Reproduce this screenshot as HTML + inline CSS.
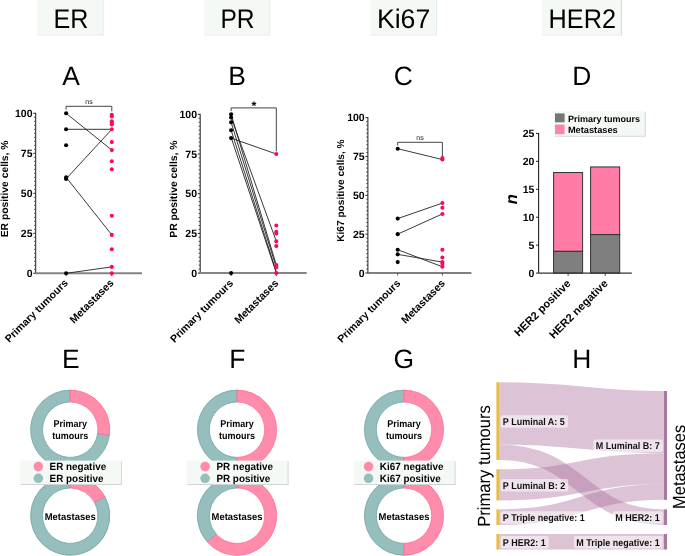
<!DOCTYPE html>
<html><head><meta charset="utf-8"><style>
html,body{margin:0;padding:0;background:#fff;}
svg{display:block;will-change:transform;text-rendering:geometricPrecision;font-family:"Liberation Sans", sans-serif;}
</style></head><body>
<svg width="685" height="556" viewBox="0 0 685 556">
<rect x="37.2" y="0" width="66.4" height="35.4" fill="#f5f9f6"/>
<line x1="103.1" y1="0" x2="103.1" y2="35.4" stroke="#e9edea" stroke-width="1"/>
<line x1="37.2" y1="34.9" x2="103.6" y2="34.9" stroke="#e9edea" stroke-width="1"/>
<text x="53.5" y="28" font-size="27" textLength="34.9" lengthAdjust="spacingAndGlyphs">ER</text>
<rect x="204.2" y="0" width="66.1" height="35.4" fill="#f5f9f6"/>
<line x1="269.8" y1="0" x2="269.8" y2="35.4" stroke="#e9edea" stroke-width="1"/>
<line x1="204.2" y1="34.9" x2="270.3" y2="34.9" stroke="#e9edea" stroke-width="1"/>
<text x="220.4" y="28" font-size="27" textLength="34.2" lengthAdjust="spacingAndGlyphs">PR</text>
<rect x="370.4" y="0" width="66.6" height="35.4" fill="#f5f9f6"/>
<line x1="436.5" y1="0" x2="436.5" y2="35.4" stroke="#e9edea" stroke-width="1"/>
<line x1="370.4" y1="34.9" x2="437" y2="34.9" stroke="#e9edea" stroke-width="1"/>
<text x="376.9" y="28" font-size="27" textLength="53.4" lengthAdjust="spacingAndGlyphs">Ki67</text>
<rect x="542.2" y="0" width="79.7" height="35.4" fill="#f5f9f6"/>
<line x1="621.4" y1="0" x2="621.4" y2="35.4" stroke="#d3d7d5" stroke-width="1"/>
<line x1="542.2" y1="34.9" x2="621.9" y2="34.9" stroke="#e9edea" stroke-width="1"/>
<text x="548.6" y="28" font-size="27" textLength="67.4" lengthAdjust="spacingAndGlyphs">HER2</text>
<text x="62.2" y="85.4" font-size="26.4">A</text>
<text x="228.2" y="85.4" font-size="26.4">B</text>
<text x="393.8" y="85.3" font-size="26.4">C</text>
<text x="572.3" y="85.2" font-size="26.4">D</text>
<text x="62.1" y="368" font-size="26.4">E</text>
<text x="229.3" y="368" font-size="26.4">F</text>
<text x="393.6" y="368.4" font-size="26.4">G</text>
<text x="572.3" y="368" font-size="26.4">H</text>
<line x1="35.7" y1="112.8" x2="35.7" y2="273.3" stroke="#222" stroke-width="1"/>
<line x1="33.3" y1="273.3" x2="35.7" y2="273.3" stroke="#222" stroke-width="1"/>
<text x="32.5" y="277" font-size="10.5" font-weight="bold" text-anchor="end">0</text>
<line x1="34.1" y1="269.3" x2="35.7" y2="269.3" stroke="#333" stroke-width="0.9"/>
<line x1="34.1" y1="265.3" x2="35.7" y2="265.3" stroke="#333" stroke-width="0.9"/>
<line x1="34.1" y1="261.3" x2="35.7" y2="261.3" stroke="#333" stroke-width="0.9"/>
<line x1="34.1" y1="257.3" x2="35.7" y2="257.3" stroke="#333" stroke-width="0.9"/>
<line x1="34.1" y1="253.3" x2="35.7" y2="253.3" stroke="#333" stroke-width="0.9"/>
<line x1="34.1" y1="249.3" x2="35.7" y2="249.3" stroke="#333" stroke-width="0.9"/>
<line x1="34.1" y1="245.3" x2="35.7" y2="245.3" stroke="#333" stroke-width="0.9"/>
<line x1="34.1" y1="241.3" x2="35.7" y2="241.3" stroke="#333" stroke-width="0.9"/>
<line x1="34.1" y1="237.3" x2="35.7" y2="237.3" stroke="#333" stroke-width="0.9"/>
<line x1="33.3" y1="233.3" x2="35.7" y2="233.3" stroke="#222" stroke-width="1"/>
<text x="32.5" y="237" font-size="10.5" font-weight="bold" text-anchor="end">25</text>
<line x1="34.1" y1="229.3" x2="35.7" y2="229.3" stroke="#333" stroke-width="0.9"/>
<line x1="34.1" y1="225.3" x2="35.7" y2="225.3" stroke="#333" stroke-width="0.9"/>
<line x1="34.1" y1="221.3" x2="35.7" y2="221.3" stroke="#333" stroke-width="0.9"/>
<line x1="34.1" y1="217.3" x2="35.7" y2="217.3" stroke="#333" stroke-width="0.9"/>
<line x1="34.1" y1="213.3" x2="35.7" y2="213.3" stroke="#333" stroke-width="0.9"/>
<line x1="34.1" y1="209.3" x2="35.7" y2="209.3" stroke="#333" stroke-width="0.9"/>
<line x1="34.1" y1="205.3" x2="35.7" y2="205.3" stroke="#333" stroke-width="0.9"/>
<line x1="34.1" y1="201.3" x2="35.7" y2="201.3" stroke="#333" stroke-width="0.9"/>
<line x1="34.1" y1="197.3" x2="35.7" y2="197.3" stroke="#333" stroke-width="0.9"/>
<line x1="33.3" y1="193.3" x2="35.7" y2="193.3" stroke="#222" stroke-width="1"/>
<text x="32.5" y="197" font-size="10.5" font-weight="bold" text-anchor="end">50</text>
<line x1="34.1" y1="189.3" x2="35.7" y2="189.3" stroke="#333" stroke-width="0.9"/>
<line x1="34.1" y1="185.3" x2="35.7" y2="185.3" stroke="#333" stroke-width="0.9"/>
<line x1="34.1" y1="181.3" x2="35.7" y2="181.3" stroke="#333" stroke-width="0.9"/>
<line x1="34.1" y1="177.3" x2="35.7" y2="177.3" stroke="#333" stroke-width="0.9"/>
<line x1="34.1" y1="173.3" x2="35.7" y2="173.3" stroke="#333" stroke-width="0.9"/>
<line x1="34.1" y1="169.3" x2="35.7" y2="169.3" stroke="#333" stroke-width="0.9"/>
<line x1="34.1" y1="165.3" x2="35.7" y2="165.3" stroke="#333" stroke-width="0.9"/>
<line x1="34.1" y1="161.3" x2="35.7" y2="161.3" stroke="#333" stroke-width="0.9"/>
<line x1="34.1" y1="157.3" x2="35.7" y2="157.3" stroke="#333" stroke-width="0.9"/>
<line x1="33.3" y1="153.3" x2="35.7" y2="153.3" stroke="#222" stroke-width="1"/>
<text x="32.5" y="157" font-size="10.5" font-weight="bold" text-anchor="end">75</text>
<line x1="34.1" y1="149.3" x2="35.7" y2="149.3" stroke="#333" stroke-width="0.9"/>
<line x1="34.1" y1="145.3" x2="35.7" y2="145.3" stroke="#333" stroke-width="0.9"/>
<line x1="34.1" y1="141.3" x2="35.7" y2="141.3" stroke="#333" stroke-width="0.9"/>
<line x1="34.1" y1="137.3" x2="35.7" y2="137.3" stroke="#333" stroke-width="0.9"/>
<line x1="34.1" y1="133.3" x2="35.7" y2="133.3" stroke="#333" stroke-width="0.9"/>
<line x1="34.1" y1="129.3" x2="35.7" y2="129.3" stroke="#333" stroke-width="0.9"/>
<line x1="34.1" y1="125.3" x2="35.7" y2="125.3" stroke="#333" stroke-width="0.9"/>
<line x1="34.1" y1="121.3" x2="35.7" y2="121.3" stroke="#333" stroke-width="0.9"/>
<line x1="34.1" y1="117.3" x2="35.7" y2="117.3" stroke="#333" stroke-width="0.9"/>
<line x1="33.3" y1="113.3" x2="35.7" y2="113.3" stroke="#222" stroke-width="1"/>
<text x="32.5" y="117" font-size="10.5" font-weight="bold" text-anchor="end">100</text>
<line x1="35.7" y1="273.3" x2="142" y2="273.3" stroke="#858585" stroke-width="2"/>
<line x1="66.1" y1="273.3" x2="66.1" y2="276.1" stroke="#444" stroke-width="1"/>
<line x1="111.8" y1="273.3" x2="111.8" y2="276.1" stroke="#444" stroke-width="1"/>
<text x="8.05" y="188.9" font-size="10.3" font-weight="bold" text-anchor="middle" transform="rotate(-90 8.05 188.9)">ER positive cells, %</text>
<text x="68.6" y="283.6" font-size="10.5" font-weight="bold" text-anchor="end" transform="rotate(-45 68.6 283.6)">Primary tumours</text>
<text x="114.3" y="283.6" font-size="10.6" font-weight="bold" text-anchor="end" transform="rotate(-45 114.3 283.6)">Metastases</text>
<line x1="66.1" y1="113.3" x2="111.8" y2="150.1" stroke="#222" stroke-width="0.9"/>
<line x1="66.1" y1="129.3" x2="111.8" y2="129.3" stroke="#222" stroke-width="0.9"/>
<line x1="66.1" y1="178.9" x2="111.8" y2="129.3" stroke="#222" stroke-width="0.9"/>
<line x1="66.1" y1="177.3" x2="111.8" y2="234.9" stroke="#222" stroke-width="0.9"/>
<line x1="66.1" y1="273.3" x2="111.8" y2="266.9" stroke="#222" stroke-width="0.9"/>
<polyline points="66.1,109.5 66.1,106.3 111.8,106.3 111.8,111.3" fill="none" stroke="#444" stroke-width="1"/>
<text x="88.95" y="104.1" font-size="7" text-anchor="middle" fill="#222">ns</text>
<circle cx="66.1" cy="113.3" r="2.05" fill="#000"/>
<circle cx="66.1" cy="129.3" r="2.05" fill="#000"/>
<circle cx="66.1" cy="145.3" r="2.05" fill="#000"/>
<circle cx="66.1" cy="177.3" r="2.05" fill="#000"/>
<circle cx="66.1" cy="178.9" r="2.05" fill="#000"/>
<circle cx="66.1" cy="273.3" r="2.05" fill="#000"/>
<circle cx="111.8" cy="114.9" r="2.05" fill="#ff0660"/>
<circle cx="111.8" cy="116.5" r="2.05" fill="#ff0660"/>
<circle cx="111.8" cy="121.3" r="2.05" fill="#ff0660"/>
<circle cx="111.8" cy="122.9" r="2.05" fill="#ff0660"/>
<circle cx="111.8" cy="124.5" r="2.05" fill="#ff0660"/>
<circle cx="111.8" cy="129.3" r="2.05" fill="#ff0660"/>
<circle cx="111.8" cy="142.1" r="2.05" fill="#ff0660"/>
<circle cx="111.8" cy="150.1" r="2.05" fill="#ff0660"/>
<circle cx="111.8" cy="161.3" r="2.05" fill="#ff0660"/>
<circle cx="111.8" cy="169.3" r="2.05" fill="#ff0660"/>
<circle cx="111.8" cy="215.7" r="2.05" fill="#ff0660"/>
<circle cx="111.8" cy="234.9" r="2.05" fill="#ff0660"/>
<circle cx="111.8" cy="249.3" r="2.05" fill="#ff0660"/>
<circle cx="111.8" cy="266.9" r="2.05" fill="#ff0660"/>
<circle cx="111.8" cy="273.3" r="2.05" fill="#ff0660"/>
<line x1="200.2" y1="113.8" x2="200.2" y2="273.1" stroke="#222" stroke-width="1"/>
<line x1="197.8" y1="273.1" x2="200.2" y2="273.1" stroke="#222" stroke-width="1"/>
<text x="197" y="276.8" font-size="10.5" font-weight="bold" text-anchor="end">0</text>
<line x1="198.6" y1="269.13" x2="200.2" y2="269.13" stroke="#333" stroke-width="0.9"/>
<line x1="198.6" y1="265.16" x2="200.2" y2="265.16" stroke="#333" stroke-width="0.9"/>
<line x1="198.6" y1="261.19" x2="200.2" y2="261.19" stroke="#333" stroke-width="0.9"/>
<line x1="198.6" y1="257.22" x2="200.2" y2="257.22" stroke="#333" stroke-width="0.9"/>
<line x1="198.6" y1="253.25" x2="200.2" y2="253.25" stroke="#333" stroke-width="0.9"/>
<line x1="198.6" y1="249.28" x2="200.2" y2="249.28" stroke="#333" stroke-width="0.9"/>
<line x1="198.6" y1="245.31" x2="200.2" y2="245.31" stroke="#333" stroke-width="0.9"/>
<line x1="198.6" y1="241.34" x2="200.2" y2="241.34" stroke="#333" stroke-width="0.9"/>
<line x1="198.6" y1="237.37" x2="200.2" y2="237.37" stroke="#333" stroke-width="0.9"/>
<line x1="197.8" y1="233.4" x2="200.2" y2="233.4" stroke="#222" stroke-width="1"/>
<text x="197" y="237.1" font-size="10.5" font-weight="bold" text-anchor="end">25</text>
<line x1="198.6" y1="229.43" x2="200.2" y2="229.43" stroke="#333" stroke-width="0.9"/>
<line x1="198.6" y1="225.46" x2="200.2" y2="225.46" stroke="#333" stroke-width="0.9"/>
<line x1="198.6" y1="221.49" x2="200.2" y2="221.49" stroke="#333" stroke-width="0.9"/>
<line x1="198.6" y1="217.52" x2="200.2" y2="217.52" stroke="#333" stroke-width="0.9"/>
<line x1="198.6" y1="213.55" x2="200.2" y2="213.55" stroke="#333" stroke-width="0.9"/>
<line x1="198.6" y1="209.58" x2="200.2" y2="209.58" stroke="#333" stroke-width="0.9"/>
<line x1="198.6" y1="205.61" x2="200.2" y2="205.61" stroke="#333" stroke-width="0.9"/>
<line x1="198.6" y1="201.64" x2="200.2" y2="201.64" stroke="#333" stroke-width="0.9"/>
<line x1="198.6" y1="197.67" x2="200.2" y2="197.67" stroke="#333" stroke-width="0.9"/>
<line x1="197.8" y1="193.7" x2="200.2" y2="193.7" stroke="#222" stroke-width="1"/>
<text x="197" y="197.4" font-size="10.5" font-weight="bold" text-anchor="end">50</text>
<line x1="198.6" y1="189.73" x2="200.2" y2="189.73" stroke="#333" stroke-width="0.9"/>
<line x1="198.6" y1="185.76" x2="200.2" y2="185.76" stroke="#333" stroke-width="0.9"/>
<line x1="198.6" y1="181.79" x2="200.2" y2="181.79" stroke="#333" stroke-width="0.9"/>
<line x1="198.6" y1="177.82" x2="200.2" y2="177.82" stroke="#333" stroke-width="0.9"/>
<line x1="198.6" y1="173.85" x2="200.2" y2="173.85" stroke="#333" stroke-width="0.9"/>
<line x1="198.6" y1="169.88" x2="200.2" y2="169.88" stroke="#333" stroke-width="0.9"/>
<line x1="198.6" y1="165.91" x2="200.2" y2="165.91" stroke="#333" stroke-width="0.9"/>
<line x1="198.6" y1="161.94" x2="200.2" y2="161.94" stroke="#333" stroke-width="0.9"/>
<line x1="198.6" y1="157.97" x2="200.2" y2="157.97" stroke="#333" stroke-width="0.9"/>
<line x1="197.8" y1="154" x2="200.2" y2="154" stroke="#222" stroke-width="1"/>
<text x="197" y="157.7" font-size="10.5" font-weight="bold" text-anchor="end">75</text>
<line x1="198.6" y1="150.03" x2="200.2" y2="150.03" stroke="#333" stroke-width="0.9"/>
<line x1="198.6" y1="146.06" x2="200.2" y2="146.06" stroke="#333" stroke-width="0.9"/>
<line x1="198.6" y1="142.09" x2="200.2" y2="142.09" stroke="#333" stroke-width="0.9"/>
<line x1="198.6" y1="138.12" x2="200.2" y2="138.12" stroke="#333" stroke-width="0.9"/>
<line x1="198.6" y1="134.15" x2="200.2" y2="134.15" stroke="#333" stroke-width="0.9"/>
<line x1="198.6" y1="130.18" x2="200.2" y2="130.18" stroke="#333" stroke-width="0.9"/>
<line x1="198.6" y1="126.21" x2="200.2" y2="126.21" stroke="#333" stroke-width="0.9"/>
<line x1="198.6" y1="122.24" x2="200.2" y2="122.24" stroke="#333" stroke-width="0.9"/>
<line x1="198.6" y1="118.27" x2="200.2" y2="118.27" stroke="#333" stroke-width="0.9"/>
<line x1="197.8" y1="114.3" x2="200.2" y2="114.3" stroke="#222" stroke-width="1"/>
<text x="197" y="118" font-size="10.5" font-weight="bold" text-anchor="end">100</text>
<line x1="200.2" y1="273.1" x2="306.7" y2="273.1" stroke="#858585" stroke-width="2"/>
<line x1="231.1" y1="273.1" x2="231.1" y2="275.9" stroke="#444" stroke-width="1"/>
<line x1="276.3" y1="273.1" x2="276.3" y2="275.9" stroke="#444" stroke-width="1"/>
<text x="176.9" y="189.1" font-size="10.35" font-weight="bold" text-anchor="middle" transform="rotate(-90 176.9 189.1)">PR positive cells, %</text>
<text x="233.9" y="283.9" font-size="10.5" font-weight="bold" text-anchor="end" transform="rotate(-45 233.9 283.9)">Primary tumours</text>
<text x="279.1" y="283.9" font-size="10.6" font-weight="bold" text-anchor="end" transform="rotate(-45 279.1 283.9)">Metastases</text>
<line x1="231.1" y1="138.12" x2="276.3" y2="154" stroke="#222" stroke-width="0.9"/>
<line x1="231.1" y1="117.48" x2="276.3" y2="241.34" stroke="#222" stroke-width="0.9"/>
<line x1="231.1" y1="114.3" x2="276.3" y2="265.16" stroke="#222" stroke-width="0.9"/>
<line x1="231.1" y1="122.24" x2="276.3" y2="267.54" stroke="#222" stroke-width="0.9"/>
<line x1="231.1" y1="130.18" x2="276.3" y2="271.83" stroke="#222" stroke-width="0.9"/>
<line x1="231.1" y1="137.33" x2="276.3" y2="273.1" stroke="#222" stroke-width="0.9"/>
<polyline points="231.1,111.1 231.1,107.9 276.3,107.9 276.3,151.3" fill="none" stroke="#444" stroke-width="1"/>
<text x="254" y="109.5" font-size="12.5" font-weight="bold" text-anchor="middle">*</text>
<circle cx="231.1" cy="114.3" r="2.05" fill="#000"/>
<circle cx="231.1" cy="117.48" r="2.05" fill="#000"/>
<circle cx="231.1" cy="122.24" r="2.05" fill="#000"/>
<circle cx="231.1" cy="130.18" r="2.05" fill="#000"/>
<circle cx="231.1" cy="138.12" r="2.05" fill="#000"/>
<circle cx="231.1" cy="273.1" r="2.05" fill="#000"/>
<circle cx="276.3" cy="154" r="2.05" fill="#ff0660"/>
<circle cx="276.3" cy="225.46" r="2.05" fill="#ff0660"/>
<circle cx="276.3" cy="231.81" r="2.05" fill="#ff0660"/>
<circle cx="276.3" cy="233.4" r="2.05" fill="#ff0660"/>
<circle cx="276.3" cy="241.34" r="2.05" fill="#ff0660"/>
<circle cx="276.3" cy="246.1" r="2.05" fill="#ff0660"/>
<circle cx="276.3" cy="265.16" r="2.05" fill="#ff0660"/>
<circle cx="276.3" cy="267.54" r="2.05" fill="#ff0660"/>
<circle cx="276.3" cy="273.1" r="2.05" fill="#ff0660"/>
<line x1="367.9" y1="117.1" x2="367.9" y2="273" stroke="#222" stroke-width="1"/>
<line x1="365.5" y1="273" x2="367.9" y2="273" stroke="#222" stroke-width="1"/>
<text x="364.7" y="276.7" font-size="10.5" font-weight="bold" text-anchor="end">0</text>
<line x1="366.3" y1="269.12" x2="367.9" y2="269.12" stroke="#333" stroke-width="0.9"/>
<line x1="366.3" y1="265.23" x2="367.9" y2="265.23" stroke="#333" stroke-width="0.9"/>
<line x1="366.3" y1="261.35" x2="367.9" y2="261.35" stroke="#333" stroke-width="0.9"/>
<line x1="366.3" y1="257.46" x2="367.9" y2="257.46" stroke="#333" stroke-width="0.9"/>
<line x1="366.3" y1="253.57" x2="367.9" y2="253.57" stroke="#333" stroke-width="0.9"/>
<line x1="366.3" y1="249.69" x2="367.9" y2="249.69" stroke="#333" stroke-width="0.9"/>
<line x1="366.3" y1="245.81" x2="367.9" y2="245.81" stroke="#333" stroke-width="0.9"/>
<line x1="366.3" y1="241.92" x2="367.9" y2="241.92" stroke="#333" stroke-width="0.9"/>
<line x1="366.3" y1="238.03" x2="367.9" y2="238.03" stroke="#333" stroke-width="0.9"/>
<line x1="365.5" y1="234.15" x2="367.9" y2="234.15" stroke="#222" stroke-width="1"/>
<text x="364.7" y="237.85" font-size="10.5" font-weight="bold" text-anchor="end">25</text>
<line x1="366.3" y1="230.26" x2="367.9" y2="230.26" stroke="#333" stroke-width="0.9"/>
<line x1="366.3" y1="226.38" x2="367.9" y2="226.38" stroke="#333" stroke-width="0.9"/>
<line x1="366.3" y1="222.5" x2="367.9" y2="222.5" stroke="#333" stroke-width="0.9"/>
<line x1="366.3" y1="218.61" x2="367.9" y2="218.61" stroke="#333" stroke-width="0.9"/>
<line x1="366.3" y1="214.72" x2="367.9" y2="214.72" stroke="#333" stroke-width="0.9"/>
<line x1="366.3" y1="210.84" x2="367.9" y2="210.84" stroke="#333" stroke-width="0.9"/>
<line x1="366.3" y1="206.95" x2="367.9" y2="206.95" stroke="#333" stroke-width="0.9"/>
<line x1="366.3" y1="203.07" x2="367.9" y2="203.07" stroke="#333" stroke-width="0.9"/>
<line x1="366.3" y1="199.19" x2="367.9" y2="199.19" stroke="#333" stroke-width="0.9"/>
<line x1="365.5" y1="195.3" x2="367.9" y2="195.3" stroke="#222" stroke-width="1"/>
<text x="364.7" y="199" font-size="10.5" font-weight="bold" text-anchor="end">50</text>
<line x1="366.3" y1="191.41" x2="367.9" y2="191.41" stroke="#333" stroke-width="0.9"/>
<line x1="366.3" y1="187.53" x2="367.9" y2="187.53" stroke="#333" stroke-width="0.9"/>
<line x1="366.3" y1="183.64" x2="367.9" y2="183.64" stroke="#333" stroke-width="0.9"/>
<line x1="366.3" y1="179.76" x2="367.9" y2="179.76" stroke="#333" stroke-width="0.9"/>
<line x1="366.3" y1="175.88" x2="367.9" y2="175.88" stroke="#333" stroke-width="0.9"/>
<line x1="366.3" y1="171.99" x2="367.9" y2="171.99" stroke="#333" stroke-width="0.9"/>
<line x1="366.3" y1="168.1" x2="367.9" y2="168.1" stroke="#333" stroke-width="0.9"/>
<line x1="366.3" y1="164.22" x2="367.9" y2="164.22" stroke="#333" stroke-width="0.9"/>
<line x1="366.3" y1="160.33" x2="367.9" y2="160.33" stroke="#333" stroke-width="0.9"/>
<line x1="365.5" y1="156.45" x2="367.9" y2="156.45" stroke="#222" stroke-width="1"/>
<text x="364.7" y="160.15" font-size="10.5" font-weight="bold" text-anchor="end">75</text>
<line x1="366.3" y1="152.56" x2="367.9" y2="152.56" stroke="#333" stroke-width="0.9"/>
<line x1="366.3" y1="148.68" x2="367.9" y2="148.68" stroke="#333" stroke-width="0.9"/>
<line x1="366.3" y1="144.79" x2="367.9" y2="144.79" stroke="#333" stroke-width="0.9"/>
<line x1="366.3" y1="140.91" x2="367.9" y2="140.91" stroke="#333" stroke-width="0.9"/>
<line x1="366.3" y1="137.03" x2="367.9" y2="137.03" stroke="#333" stroke-width="0.9"/>
<line x1="366.3" y1="133.14" x2="367.9" y2="133.14" stroke="#333" stroke-width="0.9"/>
<line x1="366.3" y1="129.25" x2="367.9" y2="129.25" stroke="#333" stroke-width="0.9"/>
<line x1="366.3" y1="125.37" x2="367.9" y2="125.37" stroke="#333" stroke-width="0.9"/>
<line x1="366.3" y1="121.48" x2="367.9" y2="121.48" stroke="#333" stroke-width="0.9"/>
<line x1="365.5" y1="117.6" x2="367.9" y2="117.6" stroke="#222" stroke-width="1"/>
<text x="364.7" y="121.3" font-size="10.5" font-weight="bold" text-anchor="end">100</text>
<line x1="367.9" y1="273" x2="471.4" y2="273" stroke="#555" stroke-width="1.3"/>
<line x1="397.7" y1="273" x2="397.7" y2="275.5" stroke="#555" stroke-width="1"/>
<line x1="442.4" y1="273" x2="442.4" y2="275.5" stroke="#555" stroke-width="1"/>
<text x="344.2" y="190.6" font-size="10.12" font-weight="bold" text-anchor="middle" transform="rotate(-90 344.2 190.6)">Ki67 positive cells, %</text>
<text x="401.1" y="283.9" font-size="10.5" font-weight="bold" text-anchor="end" transform="rotate(-45 401.1 283.9)">Primary tumours</text>
<text x="445.8" y="283.9" font-size="10.6" font-weight="bold" text-anchor="end" transform="rotate(-45 445.8 283.9)">Metastases</text>
<line x1="397.7" y1="148.68" x2="442.4" y2="159.56" stroke="#222" stroke-width="0.9"/>
<line x1="397.7" y1="218.61" x2="442.4" y2="203.07" stroke="#222" stroke-width="0.9"/>
<line x1="397.7" y1="234.15" x2="442.4" y2="213.95" stroke="#222" stroke-width="0.9"/>
<line x1="397.7" y1="249.69" x2="442.4" y2="266.78" stroke="#222" stroke-width="0.9"/>
<line x1="397.7" y1="254.35" x2="442.4" y2="262.12" stroke="#222" stroke-width="0.9"/>
<polyline points="397.7,145.5 397.7,142.3 442.4,142.3 442.4,156.2" fill="none" stroke="#444" stroke-width="1"/>
<text x="420.05" y="140.1" font-size="7" text-anchor="middle" fill="#222">ns</text>
<circle cx="397.7" cy="148.68" r="2.05" fill="#000"/>
<circle cx="397.7" cy="218.61" r="2.05" fill="#000"/>
<circle cx="397.7" cy="234.15" r="2.05" fill="#000"/>
<circle cx="397.7" cy="249.69" r="2.05" fill="#000"/>
<circle cx="397.7" cy="254.35" r="2.05" fill="#000"/>
<circle cx="397.7" cy="262.12" r="2.05" fill="#000"/>
<circle cx="442.4" cy="158" r="2.05" fill="#ff0660"/>
<circle cx="442.4" cy="159.56" r="2.05" fill="#ff0660"/>
<circle cx="442.4" cy="203.07" r="2.05" fill="#ff0660"/>
<circle cx="442.4" cy="207.73" r="2.05" fill="#ff0660"/>
<circle cx="442.4" cy="213.95" r="2.05" fill="#ff0660"/>
<circle cx="442.4" cy="249.69" r="2.05" fill="#ff0660"/>
<circle cx="442.4" cy="257.46" r="2.05" fill="#ff0660"/>
<circle cx="442.4" cy="262.12" r="2.05" fill="#ff0660"/>
<circle cx="442.4" cy="263.68" r="2.05" fill="#ff0660"/>
<circle cx="442.4" cy="266.78" r="2.05" fill="#ff0660"/>
<rect x="553.6" y="172.52" width="29" height="78.83" fill="#ff7ca6" stroke="#333" stroke-width="1"/>
<rect x="553.6" y="251.35" width="29" height="21.75" fill="#7f7f7f" stroke="#333" stroke-width="1"/>
<rect x="590.6" y="166.93" width="29.1" height="67.66" fill="#ff7ca6" stroke="#333" stroke-width="1"/>
<rect x="590.6" y="234.58" width="29.1" height="38.52" fill="#7f7f7f" stroke="#333" stroke-width="1"/>
<line x1="538.6" y1="132.9" x2="538.6" y2="273.1" stroke="#222" stroke-width="1.1"/>
<line x1="536" y1="273.1" x2="538.6" y2="273.1" stroke="#222" stroke-width="1"/>
<text x="534.4" y="276.9" font-size="10.5" font-weight="bold" text-anchor="end">0</text>
<line x1="536" y1="245.16" x2="538.6" y2="245.16" stroke="#222" stroke-width="1"/>
<text x="534.4" y="248.96" font-size="10.5" font-weight="bold" text-anchor="end">5</text>
<line x1="536" y1="217.22" x2="538.6" y2="217.22" stroke="#222" stroke-width="1"/>
<text x="534.4" y="221.02" font-size="10.5" font-weight="bold" text-anchor="end">10</text>
<line x1="536" y1="189.28" x2="538.6" y2="189.28" stroke="#222" stroke-width="1"/>
<text x="534.4" y="193.08" font-size="10.5" font-weight="bold" text-anchor="end">15</text>
<line x1="536" y1="161.34" x2="538.6" y2="161.34" stroke="#222" stroke-width="1"/>
<text x="534.4" y="165.14" font-size="10.5" font-weight="bold" text-anchor="end">20</text>
<line x1="536" y1="133.4" x2="538.6" y2="133.4" stroke="#222" stroke-width="1"/>
<text x="534.4" y="137.2" font-size="10.5" font-weight="bold" text-anchor="end">25</text>
<line x1="538.6" y1="273.1" x2="631.8" y2="273.1" stroke="#333" stroke-width="1.2"/>
<line x1="568.1" y1="273.1" x2="568.1" y2="275.7" stroke="#333" stroke-width="1"/>
<line x1="605.2" y1="273.1" x2="605.2" y2="275.7" stroke="#333" stroke-width="1"/>
<text x="571.4" y="284.2" font-size="11.1" font-weight="bold" text-anchor="end" transform="rotate(-45 571.4 284.2)">HER2 positive</text>
<text x="608.6" y="284.2" font-size="11.1" font-weight="bold" text-anchor="end" transform="rotate(-45 608.6 284.2)">HER2 negative</text>
<text x="517" y="199.3" font-size="16.5" font-weight="bold" font-style="italic" text-anchor="middle" transform="rotate(-90 517 199.3)">n</text>
<rect x="554.6" y="111.9" width="91" height="24.7" fill="#c9cdca"/>
<rect x="553.8" y="111.1" width="91" height="24.7" fill="#f5f9f6"/>
<rect x="555" y="113.4" width="9.6" height="8.9" fill="#767676"/>
<rect x="555" y="124.6" width="9.6" height="9.6" fill="#ff85a8"/>
<text x="567.9" y="121.6" font-size="9" font-weight="bold">Primary tumours</text>
<text x="567.9" y="132.8" font-size="9.25" font-weight="bold">Metastases</text>
<path d="M109.42 435.16 A39.6 39.6 0 1 1 70.2 390.1 L70.2 402 A27.7 27.7 0 1 0 97.64 433.52 Z" fill="#95bebd" stroke="#6fa6a6" stroke-width="0.8"/>
<path d="M70.2 390.1 A39.6 39.6 0 0 1 109.42 435.16 L97.64 433.52 A27.7 27.7 0 0 0 70.2 402 Z" fill="#ff8cab" stroke="#ff6d92" stroke-width="0.8"/>
<text x="70.2" y="427.1" font-size="9" font-weight="bold" text-anchor="middle" transform="translate(70.2 427.1) scale(1 1.09) translate(-70.2 -427.1)">Primary</text>
<text x="70.2" y="438.5" font-size="9" font-weight="bold" text-anchor="middle" transform="translate(70.2 438.5) scale(1 1.09) translate(-70.2 -438.5)">tumours</text>
<path d="M104.9 496.62 A39.6 39.6 0 1 1 70.2 476.1 L70.2 488 A27.7 27.7 0 1 0 94.47 502.36 Z" fill="#95bebd" stroke="#6fa6a6" stroke-width="0.8"/>
<path d="M70.2 476.1 A39.6 39.6 0 0 1 104.9 496.62 L94.47 502.36 A27.7 27.7 0 0 0 70.2 488 Z" fill="#ff8cab" stroke="#ff6d92" stroke-width="0.8"/>
<text x="70.2" y="519.7" font-size="9.45" font-weight="bold" text-anchor="middle" transform="translate(70.2 519.7) scale(1 1.06) translate(-70.2 -519.7)">Metastases</text>
<rect x="20.7" y="461.4" width="101" height="23.6" fill="#c9cdca"/>
<rect x="19.9" y="460.6" width="101" height="23.6" fill="#f5f9f6"/>
<circle cx="38.32" cy="466.6" r="4.8" fill="#ff8cab"/>
<circle cx="38.32" cy="478.3" r="4.8" fill="#95bebd"/>
<text x="49.62" y="470.1" font-size="9.9" font-weight="bold" transform="translate(49.62 470.1) scale(1 1.05) translate(-49.62 -470.1)">ER negative</text>
<text x="49.62" y="481.7" font-size="9.9" font-weight="bold" transform="translate(49.62 481.7) scale(1 1.05) translate(-49.62 -481.7)">ER positive</text>
<path d="M237 469.3 A39.6 39.6 0 0 1 237 390.1 L237 402 A27.7 27.7 0 0 0 237 457.4 Z" fill="#95bebd" stroke="#6fa6a6" stroke-width="0.8"/>
<path d="M237 390.1 A39.6 39.6 0 0 1 237 469.3 L237 457.4 A27.7 27.7 0 0 0 237 402 Z" fill="#ff8cab" stroke="#ff6d92" stroke-width="0.8"/>
<text x="237" y="427.1" font-size="9" font-weight="bold" text-anchor="middle" transform="translate(237 427.1) scale(1 1.09) translate(-237 -427.1)">Primary</text>
<text x="237" y="438.5" font-size="9" font-weight="bold" text-anchor="middle" transform="translate(237 438.5) scale(1 1.09) translate(-237 -438.5)">tumours</text>
<path d="M207.46 542.07 A39.6 39.6 0 0 1 237 476.1 L237 488 A27.7 27.7 0 0 0 216.34 534.15 Z" fill="#95bebd" stroke="#6fa6a6" stroke-width="0.8"/>
<path d="M237 476.1 A39.6 39.6 0 1 1 207.46 542.07 L216.34 534.15 A27.7 27.7 0 1 0 237 488 Z" fill="#ff8cab" stroke="#ff6d92" stroke-width="0.8"/>
<text x="237" y="519.7" font-size="9.45" font-weight="bold" text-anchor="middle" transform="translate(237 519.7) scale(1 1.06) translate(-237 -519.7)">Metastases</text>
<rect x="187.5" y="461.4" width="101" height="23.6" fill="#c9cdca"/>
<rect x="186.7" y="460.6" width="101" height="23.6" fill="#f5f9f6"/>
<circle cx="205.12" cy="466.6" r="4.8" fill="#ff8cab"/>
<circle cx="205.12" cy="478.3" r="4.8" fill="#95bebd"/>
<text x="216.42" y="470.1" font-size="9.9" font-weight="bold" transform="translate(216.42 470.1) scale(1 1.05) translate(-216.42 -470.1)">PR negative</text>
<text x="216.42" y="481.7" font-size="9.9" font-weight="bold" transform="translate(216.42 481.7) scale(1 1.05) translate(-216.42 -481.7)">PR positive</text>
<path d="M404 469.3 A39.6 39.6 0 0 1 404 390.1 L404 402 A27.7 27.7 0 0 0 404 457.4 Z" fill="#95bebd" stroke="#6fa6a6" stroke-width="0.8"/>
<path d="M404 390.1 A39.6 39.6 0 0 1 404 469.3 L404 457.4 A27.7 27.7 0 0 0 404 402 Z" fill="#ff8cab" stroke="#ff6d92" stroke-width="0.8"/>
<text x="404" y="427.1" font-size="9" font-weight="bold" text-anchor="middle" transform="translate(404 427.1) scale(1 1.09) translate(-404 -427.1)">Primary</text>
<text x="404" y="438.5" font-size="9" font-weight="bold" text-anchor="middle" transform="translate(404 438.5) scale(1 1.09) translate(-404 -438.5)">tumours</text>
<path d="M404 555.3 A39.6 39.6 0 0 1 404 476.1 L404 488 A27.7 27.7 0 0 0 404 543.4 Z" fill="#95bebd" stroke="#6fa6a6" stroke-width="0.8"/>
<path d="M404 476.1 A39.6 39.6 0 0 1 404 555.3 L404 543.4 A27.7 27.7 0 0 0 404 488 Z" fill="#ff8cab" stroke="#ff6d92" stroke-width="0.8"/>
<text x="404" y="519.7" font-size="9.45" font-weight="bold" text-anchor="middle" transform="translate(404 519.7) scale(1 1.06) translate(-404 -519.7)">Metastases</text>
<rect x="354.5" y="461.4" width="101" height="23.6" fill="#c9cdca"/>
<rect x="353.7" y="460.6" width="101" height="23.6" fill="#f5f9f6"/>
<circle cx="368.54" cy="466.6" r="4.8" fill="#ff8cab"/>
<circle cx="368.54" cy="478.3" r="4.8" fill="#95bebd"/>
<text x="379.84" y="470.1" font-size="9.9" font-weight="bold" transform="translate(379.84 470.1) scale(1 1.05) translate(-379.84 -470.1)">Ki67 negative</text>
<text x="379.84" y="481.7" font-size="9.9" font-weight="bold" transform="translate(379.84 481.7) scale(1 1.05) translate(-379.84 -481.7)">Ki67 positive</text>
<path d="M499 413.3C581.5 413.3 581.5 422.1 664 422.1" fill="none" stroke="rgb(172,112,157)" stroke-opacity="0.42" stroke-width="62.2"/>
<path d="M499 452.17C581.5 452.17 581.5 517.17 664 517.17" fill="none" stroke="rgb(172,112,157)" stroke-opacity="0.42" stroke-width="15.55"/>
<path d="M499 484.85C581.5 484.85 581.5 468.75 664 468.75" fill="none" stroke="rgb(172,112,157)" stroke-opacity="0.42" stroke-width="31.1"/>
<path d="M499 517.17C581.5 517.17 581.5 492.07 664 492.07" fill="none" stroke="rgb(172,112,157)" stroke-opacity="0.42" stroke-width="15.55"/>
<path d="M499 541.77C581.5 541.77 581.5 541.77 664 541.77" fill="none" stroke="rgb(172,112,157)" stroke-opacity="0.42" stroke-width="15.55"/>
<rect x="496.4" y="382.2" width="2.6" height="77.75" fill="#e6bd47"/>
<rect x="496.4" y="469.3" width="2.6" height="31.1" fill="#e6bd47"/>
<rect x="496.4" y="509.4" width="2.6" height="15.55" fill="#e6bd47"/>
<rect x="496.4" y="534" width="2.6" height="15.55" fill="#e6bd47"/>
<rect x="664" y="391" width="3" height="108.85" fill="#a9789f"/>
<rect x="664" y="509.4" width="3" height="15.55" fill="#a9789f"/>
<rect x="664" y="534" width="3" height="15.55" fill="#a9789f"/>
<rect x="500.5" y="415.17" width="67.41" height="12.6" rx="2" fill="rgba(255,255,255,0.55)"/>
<text x="502.8" y="424.87" font-size="9" font-weight="bold" fill="#111" transform="translate(502.8 424.87) scale(1 1.09) translate(-502.8 -424.87)">P Luminal A: 5</text>
<rect x="500.5" y="478.95" width="67.74" height="12.6" rx="2" fill="rgba(255,255,255,0.55)"/>
<text x="502.8" y="488.65" font-size="9" font-weight="bold" fill="#111" transform="translate(502.8 488.65) scale(1 1.09) translate(-502.8 -488.65)">P Luminal B: 2</text>
<rect x="500.5" y="511.27" width="87.26" height="12.6" rx="2" fill="rgba(255,255,255,0.55)"/>
<text x="502.8" y="520.97" font-size="9" font-weight="bold" fill="#111" transform="translate(502.8 520.97) scale(1 1.09) translate(-502.8 -520.97)">P Triple negative: 1</text>
<rect x="500.5" y="535.88" width="48.25" height="12.6" rx="2" fill="rgba(255,255,255,0.55)"/>
<text x="502.8" y="545.57" font-size="9" font-weight="bold" fill="#111" transform="translate(502.8 545.57) scale(1 1.09) translate(-502.8 -545.57)">P HER2: 1</text>
<rect x="593.4" y="439.52" width="69.4" height="12.6" rx="2" fill="rgba(255,255,255,0.55)"/>
<text x="595.7" y="449.22" font-size="9" font-weight="bold" fill="#111" transform="translate(595.7 449.22) scale(1 1.09) translate(-595.7 -449.22)">M Luminal B: 7</text>
<rect x="612.89" y="511.27" width="49.91" height="12.6" rx="2" fill="rgba(255,255,255,0.55)"/>
<text x="615.19" y="520.97" font-size="9" font-weight="bold" fill="#111" transform="translate(615.19 520.97) scale(1 1.09) translate(-615.19 -520.97)">M HER2: 1</text>
<rect x="573.89" y="535.88" width="88.91" height="12.6" rx="2" fill="rgba(255,255,255,0.55)"/>
<text x="576.19" y="545.57" font-size="9" font-weight="bold" fill="#111" transform="translate(576.19 545.57) scale(1 1.09) translate(-576.19 -545.57)">M Triple negative: 1</text>
<text x="490.2" y="466" font-size="17.6" text-anchor="middle" transform="rotate(-90 490.2 466)" textLength="121.5" lengthAdjust="spacingAndGlyphs">Primary tumours</text>
<text x="684.8" y="466.9" font-size="17.6" text-anchor="middle" transform="rotate(-90 684.8 466.9)" textLength="84" lengthAdjust="spacingAndGlyphs">Metastases</text>
</svg>
</body></html>
